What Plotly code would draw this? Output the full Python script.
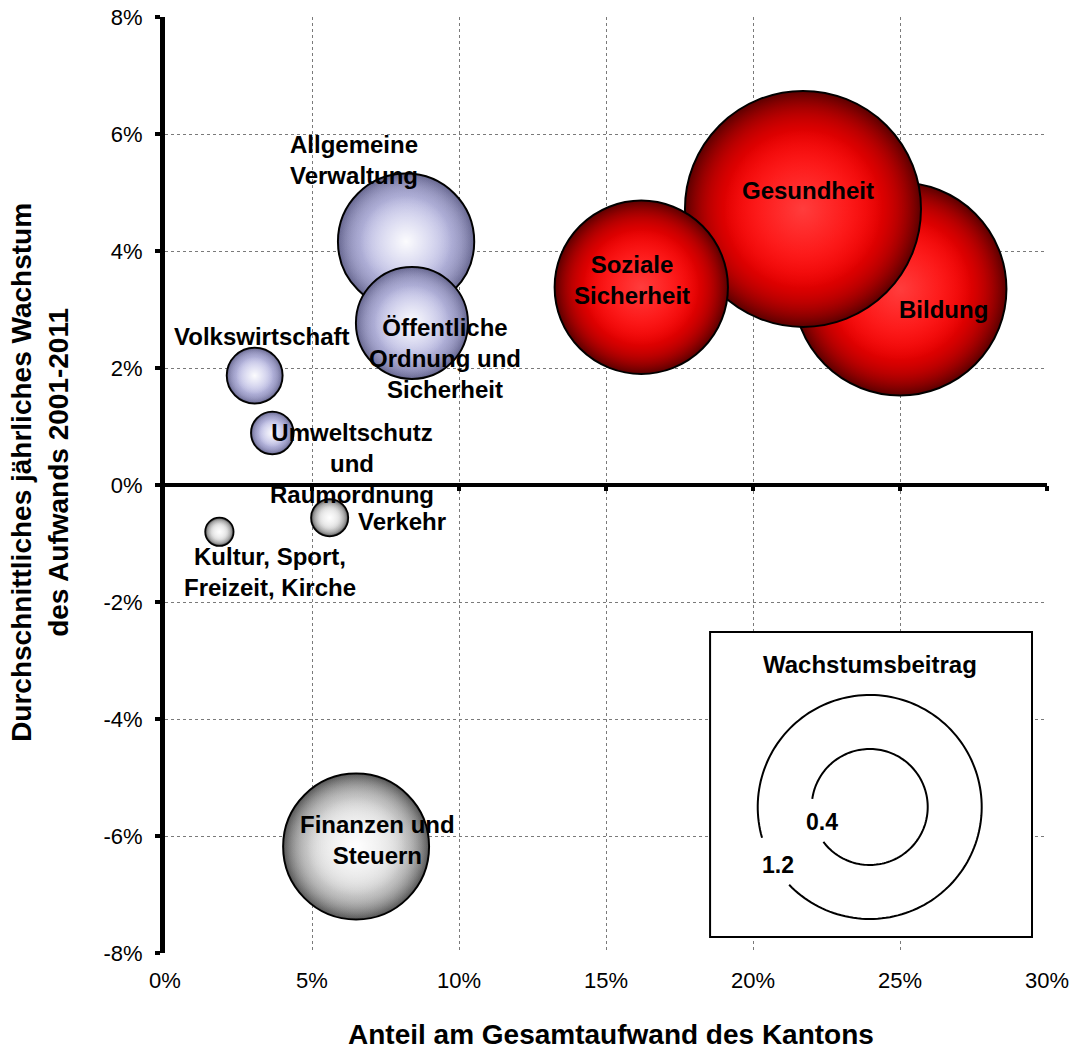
import numpy as np
import plotly.graph_objects as go

# ---------------- data ----------------
categories = ["Bildung", "Gesundheit", "Soziale Sicherheit", "Allgemeine Verwaltung",
              "Öffentliche Ordnung und Sicherheit", "Finanzen und Steuern",
              "Volkswirtschaft", "Umweltschutz und Raumordnung", "Verkehr",
              "Kultur, Sport, Freizeit, Kirche"]
label_text = ["Bildung", "Gesundheit", "Soziale<br>Sicherheit", "Allgemeine<br>Verwaltung",
              "Öffentliche<br>Ordnung und<br>Sicherheit", "Finanzen und<br>Steuern",
              "Volkswirtschaft", "Umweltschutz<br>und<br>Raumordnung", "Verkehr",
              "Kultur, Sport,<br>Freizeit, Kirche"]
anteil = [25.0, 21.7, 16.2, 8.2, 8.4, 6.5, 3.05, 3.65, 5.6, 1.85]          # % share of total
wachstum = [3.35, 4.72, 3.38, 4.16, 2.77, -6.18, 1.87, 0.89, -0.56, -0.80]  # % growth p.a.
beitrag = [0.83, 1.02, 0.55, 0.34, 0.23, 0.39, 0.057, 0.033, 0.025, 0.0145]  # growth contribution
gruppe = ["hoch", "hoch", "hoch", "mittel", "mittel", "negativ",
          "mittel", "mittel", "negativ", "negativ"]

x_ticks = [0, 5, 10, 15, 20, 25, 30]
x_tick_labels = ["0%", "5%", "10%", "15%", "20%", "25%", "30%"]
y_ticks = [-8, -6, -4, -2, 0, 2, 4, 6, 8]
y_tick_labels = ["-8%", "-6%", "-4%", "-2%", "0%", "2%", "4%", "6%", "8%"]
legend_values = ["0.4", "1.2"]

# ---------------- styles ----------------
FONT = "Liberation Sans, Arial, sans-serif"
palette = {
    "hoch":    dict(edge="#5a0000", main="rgba(255,0,0,1)", main_t="rgba(255,0,0,0)",
                    hi="rgba(255,110,110,0.55)", hi_t="rgba(255,110,110,0)"),
    "mittel":  dict(edge="#66668f", main="rgba(190,190,230,1)", main_t="rgba(190,190,230,0)",
                    hi="rgba(255,255,255,0.95)", hi_t="rgba(255,255,255,0)"),
    "negativ": dict(edge="#555555", main="rgba(225,225,225,1)", main_t="rgba(225,225,225,0)",
                    hi="rgba(255,255,255,1)", hi_t="rgba(255,255,255,0)"),
}
# label offsets in pixels relative to bubble centre
label_shift = [(43, -20), (5, 18), (-9, 7), (-52, 82), (33, -36), (21, 7),
               (7, 39), (80, -31), (72, -4), (51, -40)]

MAX_R = 118  # px radius of largest bubble
sizeref = max(beitrag) / (2 * MAX_R ** 2)

fig = go.Figure()
for i in range(len(categories)):
    p = palette[gruppe[i]]
    common = dict(x=[anteil[i]], y=[wachstum[i]], mode="markers", showlegend=False,
                  name=categories[i], hoverinfo="name")
    # base sphere with dark rim and outline
    fig.add_trace(go.Scatter(**common, marker=dict(
        size=[beitrag[i]], sizemode="area", sizeref=sizeref, opacity=1,
        color=p["edge"], gradient=dict(type="radial", color=p["main"]),
        line=dict(color="black", width=2))))
    # fading overlays -> steeper rim darkening
    for _ in range(3):
        fig.add_trace(go.Scatter(**common, marker=dict(
            size=[beitrag[i]], sizemode="area", sizeref=sizeref, opacity=1,
            color=p["main_t"], gradient=dict(type="radial", color=p["main"]),
            line=dict(width=0))))
    # highlight
    fig.add_trace(go.Scatter(**common, marker=dict(
        size=[beitrag[i]], sizemode="area", sizeref=sizeref * 2.2, opacity=1,
        color=p["hi_t"], gradient=dict(type="radial", color=p["hi"]),
        line=dict(width=0))))

# invisible trace to carry the zero-line tick axis
fig.add_trace(go.Scatter(x=[x_ticks[0]], y=[y_ticks[0]], xaxis="x2", mode="markers",
                         marker=dict(opacity=0), showlegend=False, hoverinfo="skip"))

annotations = []
for i in range(len(categories)):
    dx, dy = label_shift[i]
    annotations.append(dict(x=anteil[i], y=wachstum[i], xref="x", yref="y",
                            text=label_text[i], showarrow=False, xshift=dx, yshift=dy,
                            xanchor="center", yanchor="middle", align="center",
                            font=dict(family=FONT, size=24, color="black", weight="bold")))

# axis titles
annotations.append(dict(x=0.506, y=-0.0876, xref="paper", yref="paper",
                        text="Anteil am Gesamtaufwand des Kantons", showarrow=False,
                        xanchor="center", yanchor="middle",
                        font=dict(family=FONT, size=28, color="black", weight="bold")))
annotations.append(dict(x=-0.1417, y=0.513, xref="paper", yref="paper",
                        text="Durchschnittliches jährliches Wachstum<br>des Aufwands 2001-2011",
                        showarrow=False, textangle=-90, xanchor="center", yanchor="middle",
                        align="center",
                        font=dict(family=FONT, size=28, color="black", weight="bold")))

# size legend box
LX, LY = 0.799, 0.156
annotations.append(dict(x=LX, y=0.3077, xref="paper", yref="paper", text="Wachstumsbeitrag",
                        showarrow=False, xanchor="center", yanchor="middle",
                        font=dict(family=FONT, size=24, color="black", weight="bold")))
annotations.append(dict(x=0.745, y=0.140, xref="paper", yref="paper", text=legend_values[0],
                        showarrow=False, xanchor="center", yanchor="middle",
                        font=dict(family=FONT, size=23, color="black", weight="bold")))
annotations.append(dict(x=0.695, y=0.094, xref="paper", yref="paper", text=legend_values[1],
                        showarrow=False, xanchor="center", yanchor="middle",
                        font=dict(family=FONT, size=23, color="black", weight="bold")))


def arc_path(r, t0, t1):
    th = np.radians(np.linspace(t0, t1, 160))
    xs = r * np.cos(th)
    ys = -r * np.sin(th)
    return "M " + " L ".join(f"{a:.2f},{b:.2f}" for a, b in zip(xs, ys))


shapes = [
    dict(type="rect", xref="paper", yref="paper", x0=0.618, x1=0.983, y0=0.0171, y1=0.343,
         line=dict(color="black", width=2), fillcolor="white", layer="above"),
    dict(type="path", xref="paper", yref="paper", xsizemode="pixel", ysizemode="pixel",
         xanchor=LX, yanchor=LY, path=arc_path(112, 164, 496),
         line=dict(color="black", width=2)),
    dict(type="path", xref="paper", yref="paper", xsizemode="pixel", ysizemode="pixel",
         xanchor=LX, yanchor=LY, path=arc_path(58, 188, 503),
         line=dict(color="black", width=2)),
]

fig.update_layout(
    width=1074, height=1049,
    margin=dict(l=165, r=27, t=17, b=96),
    paper_bgcolor="white", plot_bgcolor="white",
    font=dict(family=FONT, size=22, color="black"),
    xaxis=dict(range=[x_ticks[0], x_ticks[-1]], tickmode="array", tickvals=x_ticks,
               ticktext=x_tick_labels, automargin=False,
               showgrid=True, gridcolor="#7a7a7a", griddash="dot", gridwidth=1,
               zeroline=False, showline=False, ticks="", ticklabelstandoff=12,
               tickfont=dict(family=FONT, size=22, color="black")),
    xaxis2=dict(overlaying="x", anchor="free", position=0.5, range=[x_ticks[0], x_ticks[-1]],
                tickvals=x_ticks[1:], ticks="outside", ticklen=5, tickwidth=4,
                tickcolor="black", showticklabels=False, showgrid=False, zeroline=False,
                showline=False, automargin=False),
    yaxis=dict(range=[y_ticks[0], y_ticks[-1]], tickmode="array", tickvals=y_ticks,
               ticktext=y_tick_labels, automargin=False,
               showgrid=True, gridcolor="#7a7a7a", griddash="dot", gridwidth=1,
               zeroline=True, zerolinecolor="black", zerolinewidth=4,
               showline=True, linecolor="black", linewidth=5,
               ticks="outside", ticklen=5, tickwidth=4, tickcolor="black",
               ticklabelstandoff=8,
               tickfont=dict(family=FONT, size=22, color="black")),
    annotations=annotations,
    shapes=shapes,
)

fig.write_html("out.html")
